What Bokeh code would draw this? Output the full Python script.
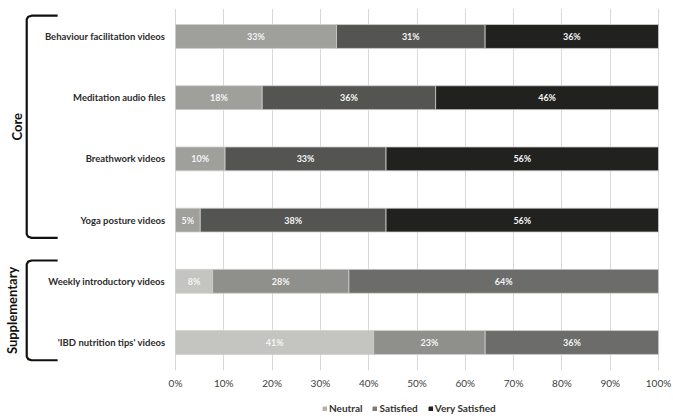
from bokeh.plotting import figure
from bokeh.layouts import column
from bokeh.models import ColumnDataSource, FactorRange, Range1d, FixedTicker, Legend, LegendItem
from bokeh.core.properties import value
from bokeh.embed import file_html
from bokeh.resources import INLINE

# ---------------- data ----------------
categories = ["Behaviour facilitation videos", "Meditation audio files", "Breathwork videos",
              "Yoga posture videos", "Weekly introductory videos", "'IBD nutrition tips' videos"]
groups = ["Core", "Core", "Core", "Core", "Supplementary", "Supplementary"]
group_names = ["Core", "Supplementary"]
series_names = ["Neutral", "Satisfied", "Very Satisfied"]
neutral = [33.33, 17.95, 10.26, 5.13, 7.69, 41.03]
satisfied = [30.77, 35.90, 33.33, 38.46, 28.21, 23.08]
very_satisfied = [35.90, 46.15, 56.41, 56.41, 64.10, 35.90]
x_ticks = [0, 10, 20, 30, 40, 50, 60, 70, 80, 90, 100]
x_tick_labels = ["0%", "10%", "20%", "30%", "40%", "50%", "60%", "70%", "80%", "90%", "100%"]

# ---------------- style ----------------
FONT = value("Lato")
group_colors = {
    "Core": ["#9f9f9c", "#545452", "#21211f"],
    "Supplementary": ["#c4c4c0", "#8f8f8b", "#6c6c6a"],
}
legend_colors = ["#b2b2b0", "#7c7c7a", "#1e1e1e"]
group_label_x = [-32.9, -33.9]

p = figure(frame_width=673, frame_height=362, output_backend="svg", toolbar_location=None,
           x_range=Range1d(-36.23, 103.1),
           y_range=FactorRange(factors=list(reversed(categories)), range_padding=-0.0142),
           y_axis_location=None, min_border_left=0, min_border_right=0,
           min_border_top=8, min_border_bottom=0)
p.outline_line_color = None
p.ygrid.visible = False
p.xgrid.ticker = FixedTicker(ticks=x_ticks)
p.xgrid.grid_line_color = "#d9d9d9"
p.xgrid.grid_line_width = 1

ax = p.xaxis[0]
ax.ticker = FixedTicker(ticks=x_ticks)
ax.major_label_overrides = {t: l for t, l in zip(x_ticks, x_tick_labels)}
ax.axis_line_color = None
ax.major_tick_line_color = None
ax.minor_tick_line_color = None
ax.major_label_standoff = 0
ax.major_label_text_font = "Lato"
ax.major_label_text_font_size = "10px"
ax.major_label_text_color = "#404040"

# stacked segments
series_vals = [neutral, satisfied, very_satisfied]
lefts = [0.0] * len(categories)
for si, vals in enumerate(series_vals):
    rights = [l + v for l, v in zip(lefts, vals)]
    src = ColumnDataSource(dict(
        y=categories, left=lefts, right=rights,
        mid=[(l + r) / 2 for l, r in zip(lefts, rights)],
        color=[group_colors[g][si] for g in groups],
        label=[f"{round(v)}%" for v in vals],
    ))
    p.hbar(y="y", left="left", right="right", height=0.39, fill_color="color",
           line_color="#cfcfcf", line_width=0.8, source=src)
    p.text(x="mid", y="y", text="label", text_align="center", text_baseline="middle",
           text_font=FONT, text_font_style="bold", text_font_size="9px",
           text_color="#f4f4f4", source=src)
    lefts = rights

# category labels
p.text(x=[-2.1] * len(categories), y=categories, text=categories, text_align="right",
       text_baseline="middle", text_font=FONT, text_font_style="bold",
       text_font_size="9.5px", text_color="#2b2b2b")

# group brackets and labels
n = len(categories)
centers = [n - 0.5 - i for i in range(n)]
bx, bend, rx, ry = -30.8, -24.4, 1.0, 0.06
xs, ys, gy = [], [], []
for g in group_names:
    idx = [i for i, gg in enumerate(groups) if gg == g]
    top = centers[idx[0]] + 0.34
    bot = centers[idx[-1]] - 0.29
    xs.append([bend, bx + rx, bx + rx * 0.3, bx, bx, bx + rx * 0.3, bx + rx, bend])
    ys.append([top, top, top - ry * 0.3, top - ry, bot + ry, bot + ry * 0.3, bot, bot])
    gy.append((top + bot) / 2)
p.multi_line(xs=xs, ys=ys, line_color="#111111", line_width=2.2)
p.text(x=group_label_x, y=gy, text=group_names, angle=1.5708, text_align="center",
       text_baseline="middle", text_font=FONT, text_font_style="bold",
       text_font_size="13px", text_color="#111111")

# legend strip (renderers without drawable data carry the legend colours)
lp = figure(width=673, height=26, output_backend="svg", toolbar_location=None,
            x_range=Range1d(0, 1), y_range=Range1d(0, 1),
            x_axis_location=None, y_axis_location=None,
            min_border_left=0, min_border_right=0, min_border_top=0, min_border_bottom=0)
lp.outline_line_color = None
lp.xgrid.visible = False
lp.ygrid.visible = False
nan = float("nan")
items = []
for name, col in zip(series_names, legend_colors):
    r = lp.quad(left=[nan], right=[nan], top=[nan], bottom=[nan],
                fill_color=col, line_color=col)
    items.append(LegendItem(label=name, renderers=[r]))
legend = Legend(items=items, orientation="horizontal", location=(322, 3),
                border_line_color=None, background_fill_alpha=0,
                label_text_font="Lato", label_text_font_style="bold",
                label_text_font_size="10px", label_text_color="#333333",
                glyph_width=5, glyph_height=5, label_height=12, label_standoff=2,
                spacing=10, padding=0, margin=0)
lp.add_layout(legend)

layout = column(p, lp, spacing=0)
open("out.html", "w").write(file_html(layout, INLINE))
